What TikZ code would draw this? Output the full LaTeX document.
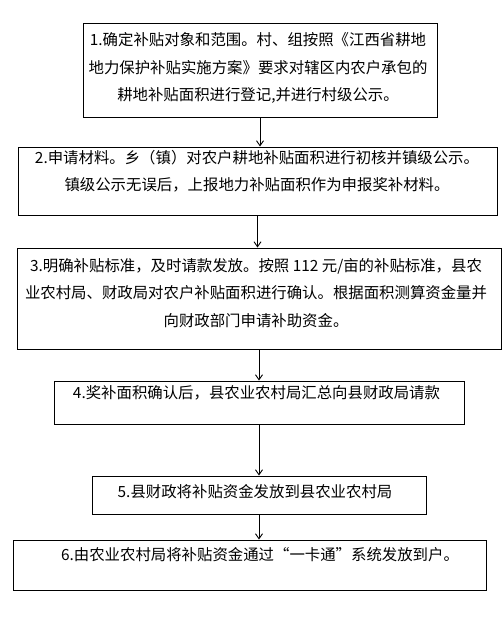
\documentclass[tikz,border=0pt]{standalone}
\usepackage{fontspec}
\setmainfont{Noto Sans CJK SC}
\usetikzlibrary{arrows.meta}
\begin{document}
\begin{tikzpicture}[x=1pt,y=-1pt,
  box/.style 2 args={draw, line width=1pt, inner sep=0pt, minimum width=#1pt, minimum height=#2pt},
  txt/.style={inner sep=0pt, align=center, font=\fontsize{15.4}{27.5}\selectfont},
  arr/.style={line width=0.9pt, -{Straight Barb[length=5pt,width=7pt]}}]
\useasboundingbox (0,0) rectangle (502,621);
\fill[white] (0,0) rectangle (502,621);
% boxes
\node[box={354}{94}]  (b1) at (260,70) {};
\node[box={479}{68}]  (b2) at (257.5,181) {};
\node[box={484}{101}] (b3) at (259,298.5) {};
\node[box={410}{43}]  (b4) at (259,402.5) {};
\node[box={334}{38}]  (b5) at (259,495) {};
\node[box={473}{50}]  (b6) at (249.5,565) {};
% texts
\node[txt] (t1) at (258,68.3) {1.确定补贴对象和范围。村、组按照《江西省耕地\\地力保护补贴实施方案》要求对辖区内农户承包的\\耕地补贴面积进行登记,并进行村级公示。};
\node[txt] (t2) at (257,171) {2.申请材料。乡（镇）对农户耕地补贴面积进行初核并镇级公示。\\镇级公示无误后，上报地力补贴面积作为申报奖补材料。};
\node[txt] (t3) at (256,292.7) {3.明确补贴标准，及时请款发放。按照 112 元/亩的补贴标准，县农\\业农村局、财政局对农户补贴面积进行确认。根据面积测算资金量并\\向财政部门申请补助资金。};
\node[txt] (t4) at (256.5,393) {4.奖补面积确认后，县农业农村局汇总向县财政局请款};
\node[txt] (t5) at (255,492) {5.县财政将补贴资金发放到县农业农村局};
\node[txt] (t6) at (260,555) {6.由农业农村局将补贴资金通过“一卡通”系统发放到户。};
% connectors
\draw[arr] (b1.south) -- (b1.south |- b2.north);
\draw[arr] (b2.south) -- (b2.south |- b3.north);
\draw[arr] (b3.south) -- (b3.south |- b4.north);
\draw[arr] (b4.south) -- (b4.south |- b5.north);
\draw[arr] (b5.south) -- (b5.south |- b6.north);
\end{tikzpicture}
\end{document}
